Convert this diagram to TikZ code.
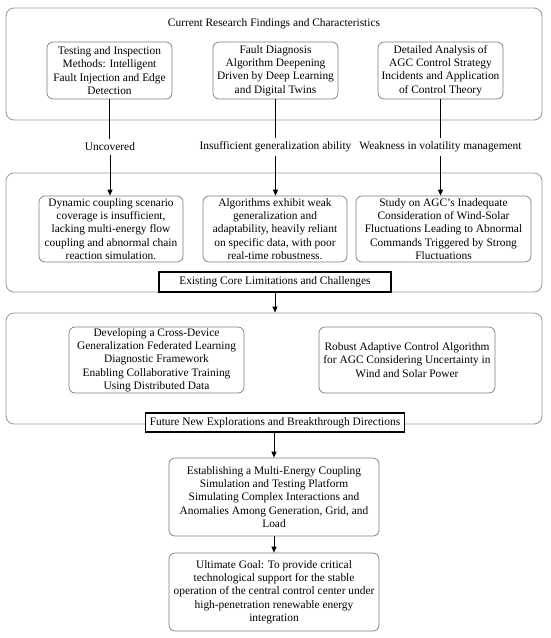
\documentclass[tikz,border=0pt]{standalone}
\usepackage{fontspec}
\setmainfont{Liberation Serif}
\usetikzlibrary{arrows.meta}
\definecolor{framegray}{RGB}{150,150,150}
\definecolor{boxgray}{RGB}{125,125,125}

\begin{document}
\begin{tikzpicture}[x=1pt, y=-1pt,
    font=\fontsize{11.4}{13.3}\selectfont,
    frame/.style={draw=framegray, line width=0.8pt, rounded corners=8pt, minimum width=536pt},
    item/.style={draw=boxgray, line width=0.7pt, rounded corners=6pt, align=center, inner sep=0pt},
    heading/.style={draw=black, line width=1.1pt, fill=white, align=center, inner sep=0pt},
    link/.style={line width=1pt},
    flow/.style={line width=1pt, -{Triangle[length=6pt,width=5pt]}}]
        \useasboundingbox (0,0) rectangle (550,638);

        % Stage frames
        \node[frame, minimum height=112pt] (stage1) at (274,64) {};
        \node[frame, minimum height=119pt] (stage2) at (274,232.5) {};
        \node[frame, minimum height=111pt] (stage3) at (274,368.5) {};

        % Current research findings
        \node (findings) at (274,24) {Current Research Findings and Characteristics};
        \node[item, minimum width=125pt, minimum height=57pt] (find1) at (109.5,70.5) {Testing and Inspection\\Methods: Intelligent\\Fault Injection and Edge\\Detection};
        \node[item, minimum width=125pt, minimum height=57pt] (find2) at (275.5,70.5) {Fault Diagnosis\\Algorithm Deepening\\Driven by Deep Learning\\and Digital Twins};
        \node[item, minimum width=125pt, minimum height=57pt] (find3) at (440.5,70.5) {Detailed Analysis of\\AGC Control Strategy\\Incidents and Application\\of Control Theory};

        % Transition labels
        \node (uncov) at (110,147) {Uncovered};
        \node (insuf) at (275.5,147) {Insufficient generalization ability};
        \node (weak) at (440.5,147) {Weakness in volatility management};

        % Existing limitations
        \node[item, minimum width=144pt, minimum height=66pt] (gap1) at (111,229) {Dynamic coupling scenario\\coverage is insufficient,\\lacking multi-energy flow\\coupling and abnormal chain\\reaction simulation.};
        \node[item, minimum width=144pt, minimum height=66pt] (gap2) at (275,229) {Algorithms exhibit weak\\generalization and\\adaptability, heavily reliant\\on specific data, with poor\\real-time robustness.};
        \node[item, minimum width=175pt, minimum height=66pt] (gap3) at (443.5,229) {Study on AGC's Inadequate\\Consideration of Wind-Solar\\Fluctuations Leading to Abnormal\\Commands Triggered by Strong\\Fluctuations};
        \node[heading, minimum width=232pt, minimum height=20pt] (limits) at (275,282) {Existing Core Limitations and Challenges};

        % Future directions
        \node[item, minimum width=175pt, minimum height=66pt] (dir1) at (156.5,360) {Developing a Cross-Device\\Generalization Federated Learning\\Diagnostic Framework\\Enabling Collaborative Training\\Using Distributed Data};
        \node[item, minimum width=176pt, minimum height=66pt] (dir2) at (407,360) {Robust Adaptive Control Algorithm\\for AGC Considering Uncertainty in\\Wind and Solar Power};
        \node[heading, minimum width=259pt, minimum height=19pt] (future) at (275,422.5) {Future New Explorations and Breakthrough Directions};

        % Platform and goal
        \node[item, minimum width=210pt, minimum height=78pt] (platform) at (274,497) {Establishing a Multi-Energy Coupling\\Simulation and Testing Platform\\Simulating Complex Interactions and\\Anomalies Among Generation, Grid, and\\Load};
        \node[item, minimum width=210pt, minimum height=78pt] (goal) at (274,592) {Ultimate Goal: To provide critical\\technological support for the stable\\operation of the central control center under\\high-penetration renewable energy\\integration};

        % Connectors
        \draw[link] (find1.south) -- (find1.south |- uncov.north);
        \draw[link] (find2.south) -- (find2.south |- insuf.north);
        \draw[link] (find3.south) -- (find3.south |- weak.north);
        \draw[flow] (uncov.south) -- (uncov.south |- gap1.north);
        \draw[flow] (insuf.south) -- (insuf.south |- gap2.north);
        \draw[flow] (weak.south) -- (weak.south |- gap3.north);
        \draw[flow] (limits.south) -- (limits.south |- stage3.north);
        \draw[flow] (platform.north |- future.south) -- (platform.north);
        \draw[flow] (platform) -- (goal);
    \end{tikzpicture}
\end{document}
